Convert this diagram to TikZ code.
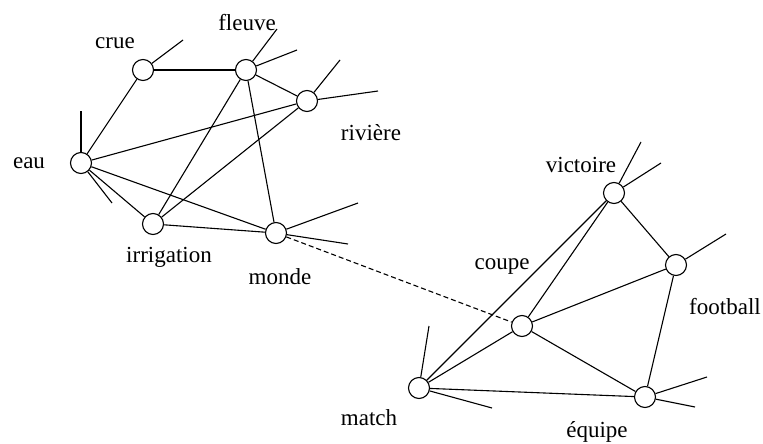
\documentclass[tikz,border=0pt]{standalone}
\usepackage{fontspec}
\setmainfont{Liberation Serif}
\usetikzlibrary{positioning}

\begin{document}
\begin{tikzpicture}[
    x=1pt, y=-1pt,
    vertex/.style={draw=black, line width=1.1pt, circle, fill=white, minimum size=21pt, inner sep=0pt},
    word/.style={font=\fontsize{23}{27}\selectfont, inner sep=0pt},
    link/.style={draw=black, line width=1.1pt},
    bridge/.style={link, dash pattern=on 5pt off 3pt}
]
\useasboundingbox (0,0) rectangle (763,444);

% Left cluster
\node[vertex] (crue) at (143,70) {};
\node[vertex] (fleuve) at (246,70) {};
\node[vertex] (riviere) at (307,101) {};
\node[vertex] (eau) at (81,163) {};
\node[vertex] (irrigation) at (153,224) {};
\node[vertex] (monde) at (276,233) {};

\node[word] (crue-txt) at (115,43) {crue};
\node[word] (fleuve-txt) at (247,23) {fleuve};
\node[word] (riviere-txt) at (371,133) {rivière};
\node[word] (eau-txt) at (29,163) {eau};
\node[word] (irrigation-txt) at (169,257) {irrigation};
\node[word] (monde-txt) at (280,277) {monde};

% Right cluster
\node[vertex] (victoire) at (614,193) {};
\node[vertex] (football) at (676,265) {};
\node[vertex] (coupe) at (522,326) {};
\node[vertex] (match) at (419,388) {};
\node[vertex] (equipe) at (645,397) {};

\node[word] (victoire-txt) at (581,165) {victoire};
\node[word] (football-txt) at (725,307) {football};
\node[word] (coupe-txt) at (502,267) {coupe};
\node[word] (match-txt) at (369,418) {match};
\node[word] (equipe-txt) at (597,432) {équipe};

% Loose ends
\coordinate (crue-end) at (183,40);
\coordinate (fleuve-end1) at (277,29);
\coordinate (fleuve-end2) at (297,50);
\coordinate (riviere-end1) at (340,60);
\coordinate (riviere-end2) at (378,91);
\coordinate (eau-end1) at (81,111);
\coordinate (eau-end2) at (112,203);
\coordinate (monde-end1) at (358,203);
\coordinate (monde-end2) at (348,244);
\coordinate (victoire-end1) at (641,142);
\coordinate (victoire-end2) at (661,163);
\coordinate (football-end) at (726,234);
\coordinate (match-end1) at (429,326);
\coordinate (match-end2) at (492,408);
\coordinate (equipe-end1) at (707,377);
\coordinate (equipe-end2) at (695,407);

\foreach \n/\e in {crue/crue-end, fleuve/fleuve-end1, fleuve/fleuve-end2,
    riviere/riviere-end1, riviere/riviere-end2, eau/eau-end1, eau/eau-end2,
    monde/monde-end1, monde/monde-end2, victoire/victoire-end1,
    victoire/victoire-end2, football/football-end, match/match-end1,
    match/match-end2, equipe/equipe-end1, equipe/equipe-end2}
    \draw[link] (\n) -- (\e);

% Edges
\foreach \a/\b in {eau/crue, crue/fleuve, fleuve/riviere, fleuve/irrigation,
    fleuve/monde, eau/riviere, riviere/irrigation, eau/irrigation, eau/monde,
    irrigation/monde, victoire/match, victoire/coupe, victoire/football,
    football/coupe, football/equipe, coupe/match, coupe/equipe, match/equipe}
    \draw[link] (\a) -- (\b);

\draw[bridge] (monde) -- (coupe);

\end{tikzpicture}
\end{document}
